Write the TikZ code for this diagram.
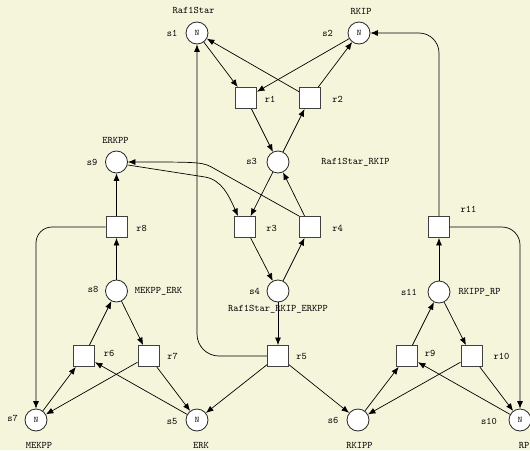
\documentclass[tikz,border=0pt]{standalone}
\usetikzlibrary{arrows.meta}
\definecolor{bg}{RGB}{245,245,220}
\begin{document}
\begin{tikzpicture}[x=1pt,y=-1pt,
  place/.style={circle,draw=black!85,fill=white,line width=0.8pt,minimum size=22pt,inner sep=0pt,font=\fontsize{8.5}{9}\selectfont\ttfamily},
  trans/.style={rectangle,draw=black!75,fill=white,line width=0.9pt,minimum size=21pt,inner sep=0pt},
  lbl/.style={font=\fontsize{10}{12}\selectfont\ttfamily,inner sep=0pt},
  arc/.style={-{Latex[length=7.5pt,width=6pt]},line width=0.7pt},
  ]
\fill[bg] (0,0) rectangle (530,450);
\useasboundingbox (0,0) rectangle (530,450);
% places
\node[place] (s1) at (197,33) {N};
\node[place] (s2) at (359,33) {N};
\node[place] (s3) at (278,162) {};
\node[place] (s4) at (278,291) {};
\node[place] (s5) at (197,420) {N};
\node[place] (s6) at (358,420) {};
\node[place] (s7) at (36,420) {N};
\node[place] (s8) at (116.5,291) {};
\node[place] (s9) at (116.5,162) {};
\node[place] (s10) at (520,420) {N};
\node[place] (s11) at (439,292) {};
% transitions
\node[trans] (r1) at (246,98) {};
\node[trans] (r2) at (310,98) {};
\node[trans] (r3) at (245,227) {};
\node[trans] (r4) at (310,227) {};
\node[trans] (r5) at (278,356) {};
\node[trans] (r6) at (84,356) {};
\node[trans] (r7) at (148.5,356) {};
\node[trans] (r8) at (116.5,227) {};
\node[trans] (r9) at (407,356) {};
\node[trans] (r10) at (471.5,356) {};
\node[trans] (r11) at (439,227) {};
% labels
\node[lbl] (l1) at (172,33) {s1};
\node[lbl] (n1) at (193.5,10) {Raf1Star};
\node[lbl] (l2) at (327.5,33) {s2};
\node[lbl] (n2) at (361,11) {RKIP};
\node[lbl] (l3) at (251.5,161) {s3};
\node[lbl] (n3) at (355.5,162) {Raf1Star\_RKIP};
\node[lbl] (l4) at (254.5,291) {s4};
\node[lbl] (n4) at (278,309) {Raf1Star\_RKIP\_ERKPP};
\node[lbl] (l5) at (172,421.5) {s5};
\node[lbl] (n5) at (201,445) {ERK};
\node[lbl] (l6) at (333,420) {s6};
\node[lbl] (n6) at (359.5,445) {RKIPP};
\node[lbl] (l7) at (12.5,418) {s7};
\node[lbl] (n7) at (39,445) {MEKPP};
\node[lbl] (l8) at (93,289) {s8};
\node[lbl] (n8) at (158.5,291) {MEKPP\_ERK};
\node[lbl] (l9) at (92,162) {s9};
\node[lbl] (n9) at (115.5,140) {ERKPP};
\node[lbl] (l10) at (489,421) {s10};
\node[lbl] (n10) at (524,445) {RP};
\node[lbl] (l11) at (409,292) {s11};
\node[lbl] (n11) at (479.5,292) {RKIPP\_RP};
\node[lbl] (lr1) at (270,99) {r1};
\node[lbl] (lr2) at (337.5,99) {r2};
\node[lbl] (lr3) at (271.5,228) {r3};
\node[lbl] (lr4) at (337.5,228) {r4};
\node[lbl] (lr5) at (301.5,356) {r5};
\node[lbl] (lr6) at (109,353) {r6};
\node[lbl] (lr7) at (172.5,356) {r7};
\node[lbl] (lr8) at (141.5,228) {r8};
\node[lbl] (lr9) at (430,353) {r9};
\node[lbl] (lr10) at (501.5,356) {r10};
\node[lbl] (lr11) at (468.5,209) {r11};
% arcs top
\draw[arc] (s1) -- (r1);
\draw[arc] (s2) -- (r1);
\draw[arc] (r2) -- (s1);
\draw[arc] (r2) -- (s2);
\draw[arc] (r1) -- (s3);
\draw[arc] (s3) -- (r2);
\draw[arc] (s3) -- (r3);
\draw[arc] (r4) -- (s3);
\draw[arc] (r3) -- (s4);
\draw[arc] (s4) -- (r4);
\draw[arc] (s4) -- (r5);
\draw[arc] (r4.north west) -- (215,169) .. controls (203,162) .. (s9.east);
\draw[arc] (s9.-15) -- (205,177) .. controls (222,180) and (229,196) .. ([xshift=-7pt]r3.north);
\draw[arc,rounded corners=22pt] (r5.west) -| (s1.south);
\draw[arc] (r5) -- (s5);
\draw[arc] (r5) -- (s6);
% left
\draw[arc] (s8) -- (r8);
\draw[arc] (r8) -- (s9);
\draw[arc,rounded corners=16pt] (r8.west) -| (s7.north);
\draw[arc] (r6) -- (s8);
\draw[arc] (s8) -- (r7);
\draw[arc] (s7) -- (r6);
\draw[arc] (s5) -- (r6);
\draw[arc] (r7) -- (s7);
\draw[arc] (r7) -- (s5);
% right
\draw[arc] (s11) -- (r11);
\draw[arc,rounded corners=20pt] (r11.north) |- (s2.east);
\draw[arc,rounded corners=18pt] (r11.east) -| (s10.north);
\draw[arc] (r9) -- (s11);
\draw[arc] (s11) -- (r10);
\draw[arc] (s6) -- (r9);
\draw[arc] (s10) -- (r9);
\draw[arc] (r10) -- (s6);
\draw[arc] (r10) -- (s10);
\end{tikzpicture}
\end{document}
